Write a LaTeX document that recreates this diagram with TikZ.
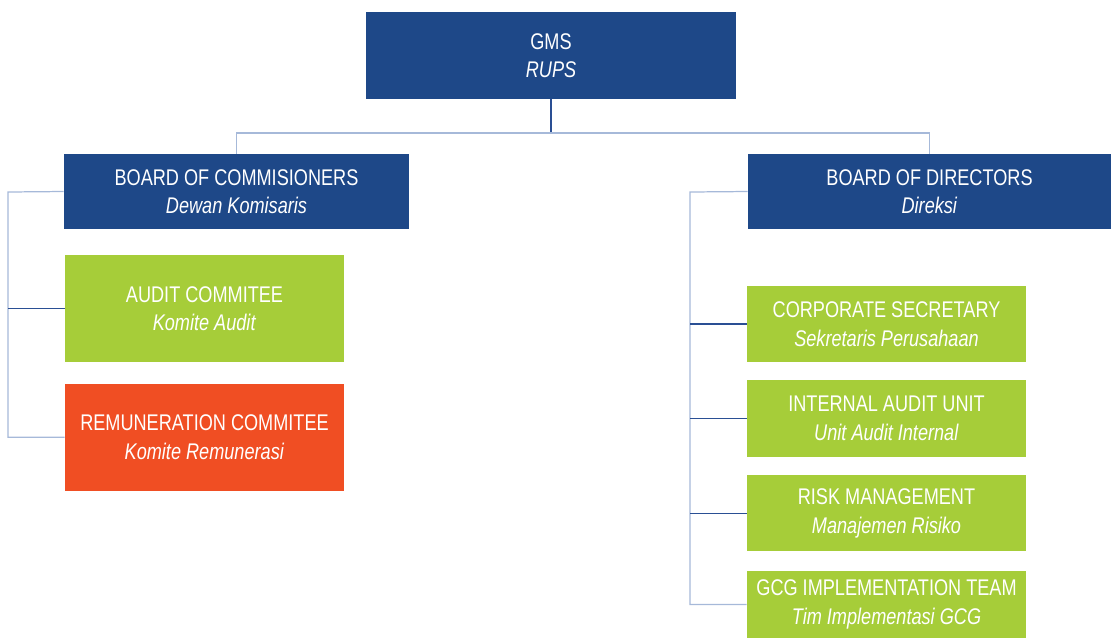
\documentclass[tikz,border=0pt]{standalone}
\usepackage{fontspec}
\setmainfont{Liberation Sans}[FakeStretch=0.8]
\usepackage{tikz}
\usetikzlibrary{positioning}
\usepackage{xcolor}
\definecolor{boardblue}{HTML}{1E4888}
\definecolor{unitgreen}{HTML}{A6CD39}
\definecolor{remorange}{HTML}{F04E23}
\definecolor{linelight}{HTML}{A6B9D9}
\definecolor{linedark}{HTML}{2A4F94}

\begin{document}
\begin{tikzpicture}[
    x=0.02cm, y=-0.02cm,
    node distance=0.36cm,
    box/.style={rectangle, inner sep=0pt, text=white, align=center, font=\fontsize{12.9}{16.2}\selectfont},
    board/.style={box, fill=boardblue, minimum height=1.5cm},
    unit/.style={box, fill=unitgreen, minimum width=5.58cm, minimum height=1.52cm},
    link/.style={draw=linelight, line width=0.7pt},
    branch/.style={draw=linedark, line width=0.7pt}
]
\useasboundingbox (0,0) rectangle (1111,637);

\node[board, minimum width=7.4cm, minimum height=1.74cm] (gms) at (551,55.5) {GMS\\\textit{RUPS}};
\node[board, minimum width=6.9cm] (boc) at (236.5,191.5) {BOARD OF COMMISIONERS\\\textit{Dewan Komisaris}};
\node[board, minimum width=7.26cm] (bod) at (929.5,191.5) {BOARD OF DIRECTORS\\\textit{Direksi}};

% commissioners side
\node[unit, minimum height=2.14cm] (audit) at (204.5,308.5) {AUDIT COMMITEE\\\textit{Komite Audit}};
\node[unit, minimum height=2.14cm, fill=remorange, below=0.42cm of audit] (rem) {REMUNERATION COMMITEE\\\textit{Komite Remunerasi}};

% directors side
\node[unit] (corsec) at (886.5,324) {CORPORATE SECRETARY\\\textit{Sekretaris Perusahaan}};
\node[unit, minimum height=1.54cm, below=0.34cm of corsec] (iau) {INTERNAL AUDIT UNIT\\\textit{Unit Audit Internal}};
\node[unit, below=of iau] (risk) {RISK MANAGEMENT\\\textit{Manajemen Risiko}};
\node[unit, minimum height=1.34cm, below=0.38cm of risk] (gcg) {GCG IMPLEMENTATION TEAM\\\textit{Tim Implementasi GCG}};

\coordinate (bar) at (551,133);
\coordinate (ltrunk) at (8,192);
\coordinate (rtrunk) at (690,192);

\draw[branch] (gms.south) -- (bar);
\draw[link] (boc.north) |- (bar) -| (bod.north);

\draw[link] (boc.west) -- (ltrunk) |- (rem.west);
\draw[branch] (audit.west) -- (audit.west -| ltrunk);

\draw[link] (bod.west) -- (rtrunk) |- (gcg.west);
\foreach \n in {corsec, iau, risk}
    \draw[branch] (\n.west) -- (\n.west -| rtrunk);

\end{tikzpicture}
\end{document}
